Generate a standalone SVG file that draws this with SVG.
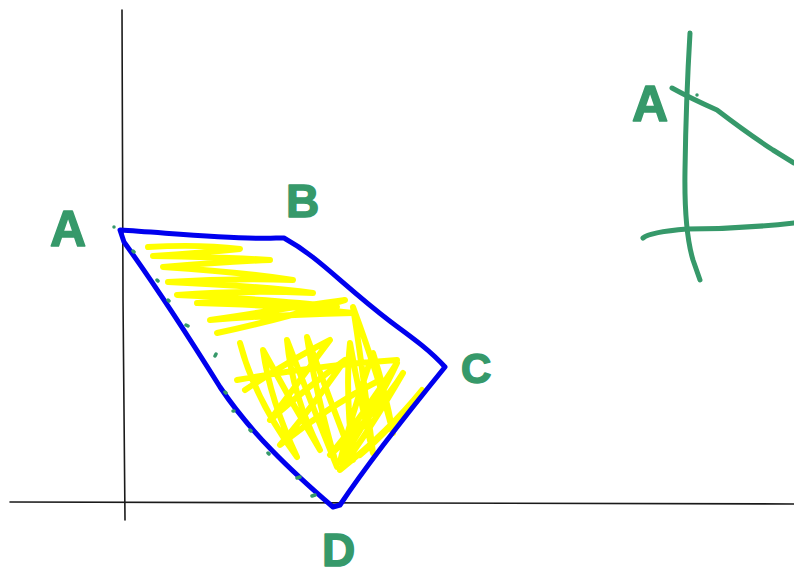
<svg xmlns="http://www.w3.org/2000/svg" width="794" height="575" viewBox="0 0 794 575">
<style>
.axis{fill:none;stroke:#1a1a1a;stroke-width:1.6;stroke-linecap:round}
.green{fill:none;stroke:#36996a;stroke-width:5;stroke-linecap:round;stroke-linejoin:round}
.dot{fill:none;stroke:#36996a;stroke-width:3.5;stroke-linecap:round}
.blue{fill:none;stroke:#0000ee;stroke-width:5;stroke-linecap:round;stroke-linejoin:round}
.yellow{fill:none;stroke:#ffff00;stroke-width:6;stroke-linecap:round;stroke-linejoin:round}
.lbl{font-family:"Liberation Sans",Arial,sans-serif;font-weight:bold;fill:#36996a;stroke:#36996a;stroke-width:1.5;stroke-linejoin:round}
</style>
<rect width="794" height="575" fill="#ffffff"/>
<g id="axes">
<path class="axis" d="M122,10 L123,300 L125,520"/>
<path class="axis" d="M10,502 L400,503 L794,504"/>
</g>
<g id="fill">
<path class="yellow" d="M148,247 Q200,244 240,249 Q200,253 153,256 Q220,257 270,260 Q220,262 163,267 Q240,272 293,280 Q230,278 168,282 Q260,286 313,293 Q240,290 177,295 Q280,300 337,307 Q260,300 197,303 Q300,306 353,313 Q270,315 210,320 Q300,306 345,300 Q270,322 217,333"/>
<path class="yellow" d="M237,380 Q320,365 397,360 M240,343 Q255,400 297,457 Q270,400 263,350 Q290,400 320,450 Q292,395 287,340 Q310,400 337,467 Q315,390 307,337 Q330,400 353,460 Q345,390 350,343 Q360,400 373,453 Q360,350 353,307 Q380,380 393,433 Q385,390 373,353 Q350,420 340,462 Q380,400 397,363 Q360,420 330,455 Q380,410 403,373 Q370,430 340,470 Q390,430 422,390 Q390,430 360,455"/>
<path class="yellow" d="M245,390 Q290,360 330,340 Q300,380 270,420 Q310,385 345,360 Q310,410 280,445 Q330,405 380,380"/>
</g>
<g id="region">
<path class="blue" d="M120,230 C170,233 240,240 276,238 L284,238 C320,258 340,283 391,322 C410,336 430,350 445,367 C410,410 370,460 340,505 L333,507 C290,470 250,432 220,387 C195,347 160,292 124,242 Z"/>
</g>
<g id="dashes">
<path class="dot" d="M133,251 l1,1 M157,280 l1,1 M168,300 l1,1 M186,325 l2,1 M216,354 l-1,2 M225,392 l1,1 M233,411 l1,0 M250,430 l1,1 M268,453 l1,1 M297,478 l3,-1 M312,496 l3,-1 M114,227 l0,0"/>
</g>
<g id="sketch">
<path class="green" d="M690,33 Q686,100 685,170 Q684,230 693,260 L700,280"/>
<path class="green" d="M643,238 Q650,232 687,229 Q740,229 794,223"/>
<path class="green" d="M672,88 Q690,98 717,110 Q747,133 773,150 L794,163"/>
<path class="dot" d="M697,95 l0,0"/>
</g>
<g id="labels">
<text class="lbl" x="50" y="246" font-size="50">A</text>
<text class="lbl" x="286" y="217" font-size="46">B</text>
<text class="lbl" x="461" y="383" font-size="42">C</text>
<text class="lbl" x="322" y="566" font-size="46">D</text>
<text class="lbl" x="632" y="121" font-size="50">A</text>
</g>
</svg>
